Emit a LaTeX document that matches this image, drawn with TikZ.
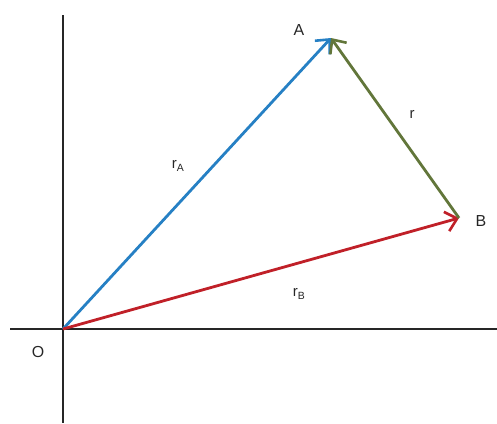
\documentclass[tikz,border=0pt]{standalone}
\usepackage{fontspec}
\setmainfont{Liberation Sans}
\usetikzlibrary{arrows.meta}
\definecolor{vblue}{RGB}{38,128,196}
\definecolor{vred}{RGB}{192,32,40}
\definecolor{vgreen}{RGB}{98,118,58}
\tikzset{
  axis/.style={line width=2.6bp, black!85},
  vec/.style={line width=2.8bp, -{Straight Barb[length=11bp,width=20bp,line width=2.6bp]}},
  lbl/.style={font=\fontsize{16}{18}\selectfont, text=black!85, inner sep=0pt},
  vlbl/.style={font=\fontsize{15}{17}\selectfont, text=black!85, inner sep=0pt}
}
\begin{document}
\begin{tikzpicture}[x=1bp,y=-1bp]
\useasboundingbox (0,0) rectangle (497,423);
\coordinate (O) at (63,329);
\coordinate (A) at (331,38);
\coordinate (B) at (459,218);
\coordinate (ytop) at (63,15);
\coordinate (ybot) at (63,423);
\coordinate (xl) at (10,329);
\coordinate (xr) at (497,329);
\draw[axis] (ytop) -- (ybot);
\draw[axis] (xl) -- (xr);
\draw[vec, vblue] (O) -- (A);
\draw[vec, vred] (O) -- (B);
\draw[vec, vgreen] (B) -- (A);
\node[lbl] (lA) at (299,30) {A};
\node[lbl] (lB) at (481,221) {B};
\node[lbl] (lO) at (38,352) {O};
\node[vlbl] (lrA) at (178,166) {r\textsubscript{A}};
\node[vlbl] (lrB) at (299,294) {r\textsubscript{B}};
\node[vlbl] (lr) at (412,114) {r};
\end{tikzpicture}
\end{document}
